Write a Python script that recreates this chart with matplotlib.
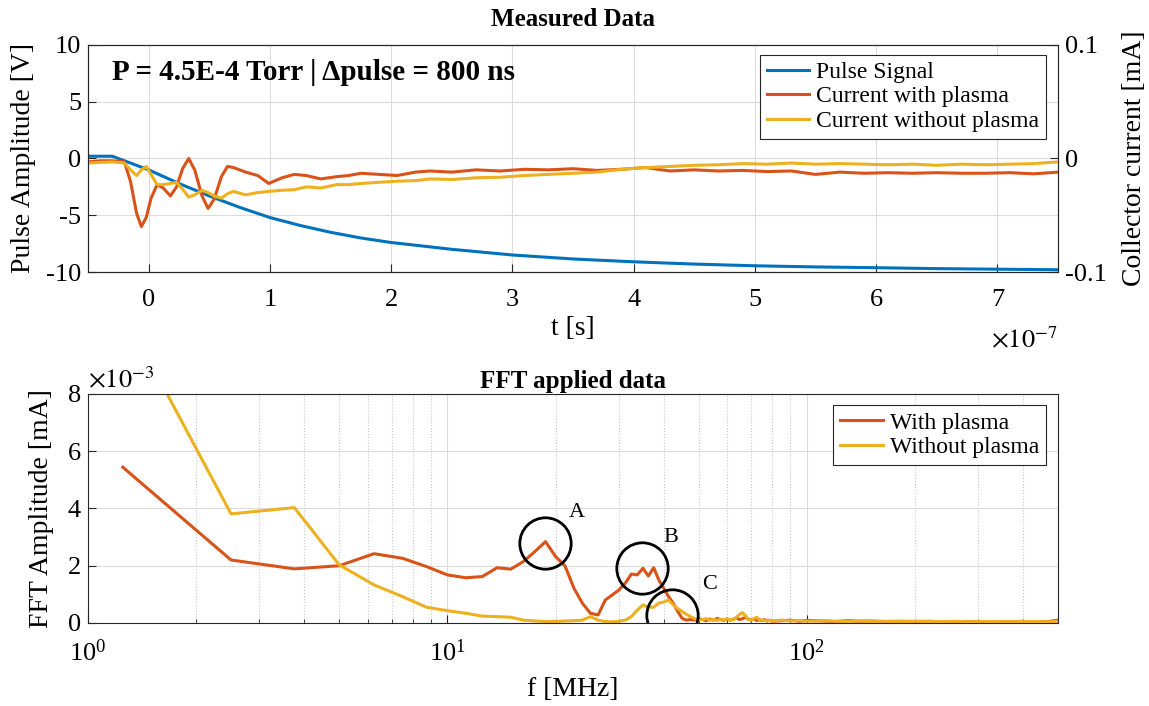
import matplotlib
matplotlib.use("Agg")
import matplotlib.pyplot as plt
import numpy as np

plt.rcParams['font.family'] = ['Liberation Serif', 'DejaVu Serif']
plt.rcParams['mathtext.fontset'] = 'stix'
plt.rcParams['axes.unicode_minus'] = False

# colours used by the scope plots
c_blue = "#0072BD"
c_orange = "#D95319"
c_yellow = "#EDB120"
c_axis = "#262626"

# ---- time domain (time in units of 1e-7 s) ----
t_pulse = [-0.5, -0.4, -0.3, -0.2, -0.1, 0.0, 0.25, 0.5, 0.75, 1.0, 1.25, 1.5,
           1.75, 2.0, 2.5, 3.0, 3.5, 4.0, 4.5, 5.0, 5.5, 6.0, 6.5, 7.0, 7.5]
v_pulse = [0.2, 0.2, 0.2, -0.2, -0.6, -1.0, -2.2, -3.3, -4.3, -5.2, -5.9, -6.5,
           -7.0, -7.4, -8.0, -8.5, -8.85, -9.1, -9.3, -9.45, -9.55, -9.62, -9.7,
           -9.75, -9.8]

t_cur = [-0.5, -0.4, -0.3, -0.2, -0.15, -0.1, -0.06, -0.02, 0.02, 0.07, 0.12, 0.18,
         0.23, 0.28, 0.33, 0.38, 0.44, 0.49, 0.54, 0.6, 0.65, 0.7, 0.8, 0.9, 0.99,
         1.1, 1.2, 1.3, 1.42, 1.55, 1.65, 1.75, 1.9, 2.05, 2.2, 2.32, 2.5, 2.7, 2.9,
         3.1, 3.3, 3.5, 3.7, 3.9, 4.1, 4.3, 4.5, 4.7, 4.9, 5.1, 5.3, 5.5, 5.7, 5.9,
         6.1, 6.3, 6.5, 6.7, 6.9, 7.1, 7.3, 7.5]
# collector current in mA
i_plasma = [-0.003, -0.002, -0.002, -0.003, -0.020, -0.048, -0.060, -0.052, -0.035,
            -0.023, -0.026, -0.033, -0.025, -0.009, 0.000, -0.010, -0.033, -0.044,
            -0.036, -0.016, -0.007, -0.008, -0.012, -0.015, -0.022, -0.017, -0.014,
            -0.015, -0.018, -0.016, -0.015, -0.013, -0.014, -0.015, -0.012, -0.011,
            -0.012, -0.010, -0.011, -0.0095, -0.010, -0.009, -0.0105, -0.0095,
            -0.008, -0.011, -0.010, -0.011, -0.0105, -0.0115, -0.011, -0.014,
            -0.012, -0.013, -0.0125, -0.013, -0.0125, -0.013, -0.013, -0.0125,
            -0.0135, -0.012]
i_no_plasma = [-0.004, -0.0035, -0.003, -0.004, -0.010, -0.015, -0.010, -0.007,
               -0.014, -0.023, -0.023, -0.022, -0.021, -0.027, -0.034, -0.032,
               -0.028, -0.030, -0.033, -0.035, -0.031, -0.029, -0.032, -0.030,
               -0.029, -0.028, -0.0275, -0.025, -0.026, -0.023, -0.023, -0.022,
               -0.021, -0.020, -0.0195, -0.018, -0.0185, -0.017, -0.0165, -0.015,
               -0.014, -0.013, -0.012, -0.0095, -0.008, -0.007, -0.006, -0.0055,
               -0.0045, -0.005, -0.004, -0.005, -0.0045, -0.005, -0.0055, -0.005,
               -0.006, -0.005, -0.0055, -0.005, -0.0045, -0.003]

# ---- spectrum ----
f_mhz = [1.25, 2.5, 3.75, 5.0, 6.25, 7.5, 8.75, 10.0, 11.25, 12.5, 13.75, 15.0,
         16.25, 17.5, 18.75, 20.0, 21.25, 22.5, 23.75, 25.0, 26.25, 27.5, 28.75,
         30.0, 31.25, 32.5, 33.75, 35.0, 36.25, 37.5, 38.75, 40.0, 41.25, 42.5,
         43.75, 45.0, 46.25, 47.5, 48.75, 50.0, 51.25, 52.5, 53.75, 55.0, 56.25,
         57.5, 58.75, 60.0, 61.25, 62.5, 63.75, 65.0, 66.25, 67.5, 68.75, 70.0,
         71.25, 72.5, 73.75, 75.0, 76.25, 77.5, 78.75, 80.0, 85, 90, 95, 100, 110,
         120, 130, 140, 150, 165, 180, 200, 220, 240, 260, 280, 300, 330, 360, 400,
         440, 470, 500]
# FFT amplitude in units of 1e-3 mA
fft_plasma = [5.44, 2.2, 1.89, 2.0, 2.42, 2.26, 1.97, 1.68, 1.58, 1.62, 1.93, 1.88,
              2.14, 2.49, 2.84, 2.32, 1.99, 1.21, 0.69, 0.34, 0.28, 0.8, 0.98, 1.15,
              1.39, 1.71, 1.68, 1.91, 1.64, 1.93, 1.5, 1.21, 0.92, 0.69, 0.4, 0.16,
              0.1, 0.12, 0.1, 0.15, 0.12, 0.08, 0.14, 0.1, 0.16, 0.12, 0.09, 0.14,
              0.1, 0.13, 0.18, 0.12, 0.15, 0.2, 0.13, 0.1, 0.14, 0.09, 0.11, 0.08,
              0.12, 0.07, 0.1, 0.06, 0.08, 0.1, 0.06, 0.09, 0.07, 0.05, 0.08, 0.06,
              0.07, 0.05, 0.06, 0.05, 0.06, 0.04, 0.05, 0.05, 0.04, 0.05, 0.04, 0.05,
              0.04, 0.05, 0.1]
fft_no_plasma = [10.9, 3.81, 4.03, 2.03, 1.33, 0.92, 0.55, 0.43, 0.34, 0.24, 0.22,
                 0.2, 0.1, 0.07, 0.05, 0.05, 0.07, 0.08, 0.1, 0.22, 0.1, 0.05, 0.04,
                 0.06, 0.1, 0.22, 0.45, 0.63, 0.55, 0.55, 0.7, 0.73, 0.8, 0.63, 0.5,
                 0.4, 0.3, 0.22, 0.15, 0.1, 0.12, 0.15, 0.1, 0.13, 0.09, 0.12, 0.1,
                 0.15, 0.1, 0.12, 0.2, 0.3, 0.36, 0.25, 0.12, 0.1, 0.14, 0.2, 0.12,
                 0.09, 0.1, 0.07, 0.09, 0.06, 0.1, 0.07, 0.09, 0.06, 0.08, 0.06, 0.05,
                 0.07, 0.05, 0.06, 0.05, 0.06, 0.05, 0.05, 0.06, 0.04, 0.05, 0.05,
                 0.04, 0.05, 0.05, 0.04, 0.06]

# marked peaks: (label, freq MHz, amplitude 1e-3 mA, label freq, label amp)
peaks = [("A", 18.7, 2.8, 22.9, 3.85),
         ("B", 34.8, 1.91, 41.9, 3.0),
         ("C", 42.1, 0.28, 53.7, 1.35)]

fig = plt.figure(figsize=(11.49, 7.06), dpi=100)
ax1 = fig.add_axes([0.0766, 0.6147, 0.8442, 0.3216])
ax2 = fig.add_axes([0.0766, 0.1176, 0.8442, 0.3244])

fs_tick = 19
fs_lab = 20
lw = 2.2

def style(ax):
    for s in ax.spines.values():
        s.set_color(c_axis)
        s.set_linewidth(0.8)
    ax.tick_params(direction='in', length=6, width=0.8, colors=c_axis,
                   labelsize=fs_tick, labelcolor='black')
    ax.tick_params(axis='x', pad=12)
    ax.tick_params(axis='y', pad=5)

# top: measured signals
t1 = np.array(t_pulse) * 1e-7
t2 = np.array(t_cur) * 1e-7
ax1r = ax1.twinx()
lp, = ax1.plot(t1, v_pulse, color=c_blue, lw=lw, label="Pulse Signal")
l1, = ax1r.plot(t2, i_plasma, color=c_orange, lw=lw, label="Current with plasma")
l2, = ax1r.plot(t2, i_no_plasma, color=c_yellow, lw=lw, label="Current without plasma")
ax1.set_xlim(-0.5e-7, 7.5e-7)
ax1.set_ylim(-10, 10)
ax1r.set_ylim(-0.1, 0.1)
ax1.set_yticks([-10, -5, 0, 5, 10])
ax1r.set_yticks([-0.1, 0, 0.1])
ax1r.set_yticklabels(["-0.1", "0", "0.1"])
xt = np.arange(0, 8) * 1e-7
ax1.set_xticks(xt)
ax1.set_xticklabels([str(i) for i in range(8)])
ax1.grid(True, color='#dcdcdc', lw=0.8)
ax1.set_axisbelow(True)
style(ax1)
style(ax1r)
ax1.set_title("Measured Data", fontsize=18, fontweight='bold', pad=14)
ax1.set_xlabel("t [s]", fontsize=fs_lab, labelpad=4)
ax1.set_ylabel("Pulse Amplitude [V]", fontsize=fs_lab, labelpad=7)
ax1r.set_ylabel("Collector current [mA]", fontsize=fs_lab, labelpad=11)
ax1.text(1.0, -0.30, r"$\times10^{-7}$", transform=ax1.transAxes, ha='right',
         va='center', fontsize=fs_tick)
ax1.text(0.025, 0.88, "P = 4.5E-4 Torr | \u0394pulse = 800 ns", transform=ax1.transAxes,
         fontsize=21, fontweight='bold', va='center', ha='left')
leg = ax1r.legend(handles=[lp, l1, l2], loc='upper right', bbox_to_anchor=(0.988, 0.958),
                  borderaxespad=0, fancybox=False, framealpha=1, fontsize=17,
                  handlelength=1.8, handletextpad=0.3, borderpad=0.3, labelspacing=0.12)
leg.get_frame().set_edgecolor(c_axis)
leg.get_frame().set_linewidth(0.8)

# bottom: spectrum
f = np.array(f_mhz)
ax2.plot(f, np.array(fft_plasma) * 1e-3, color=c_orange, lw=lw, label="With plasma")
ax2.plot(f, np.array(fft_no_plasma) * 1e-3, color=c_yellow, lw=lw, label="Without plasma")
ax2.set_xscale('log')
ax2.set_xlim(1, 500)
ax2.set_ylim(0, 8e-3)
ax2.set_yticks(np.array([0, 2, 4, 6, 8]) * 1e-3)
ax2.set_yticklabels(["0", "2", "4", "6", "8"])
ax2.grid(True, which='major', color='#dcdcdc', lw=0.8)
ax2.grid(True, which='minor', axis='x', color='#c8c8c8', lw=0.8, ls=':')
ax2.set_axisbelow(True)
style(ax2)
ax2.tick_params(which='minor', direction='in', length=3, width=0.6, colors=c_axis)
for name, fx, amp, lx, ly in peaks:
    ax2.plot([fx], [amp * 1e-3], marker='o', ms=37, mfc='none', mec='black', mew=2.0)
    ax2.text(lx, ly * 1e-3, name, fontsize=16, ha='center', va='center')
ax2.set_title("FFT applied data", fontsize=18, fontweight='bold', pad=4)
ax2.set_xlabel("f [MHz]", fontsize=fs_lab, labelpad=8)
ax2.set_ylabel("FFT Amplitude [mA]", fontsize=fs_lab, labelpad=10)
ax2.text(0.0, 1.06, r"$\times10^{-3}$", transform=ax2.transAxes, ha='left',
         va='center', fontsize=fs_tick)
leg2 = ax2.legend(loc='upper right', bbox_to_anchor=(0.988, 0.952), borderaxespad=0,
                  fancybox=False, framealpha=1, fontsize=17, handlelength=1.8,
                  handletextpad=0.3, borderpad=0.3, labelspacing=0.12)
leg2.get_frame().set_edgecolor(c_axis)
leg2.get_frame().set_linewidth(0.8)

fig.savefig("out.png", dpi=100)
